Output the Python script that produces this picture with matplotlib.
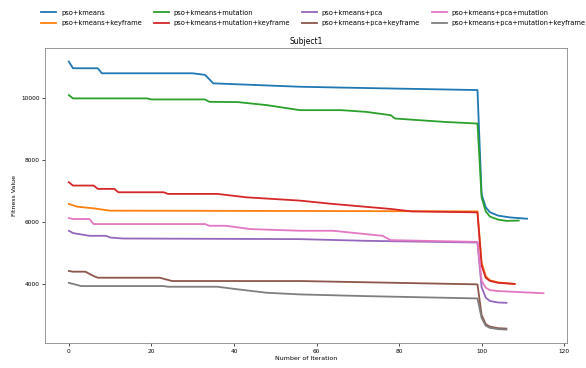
import matplotlib
matplotlib.use('Agg')
import matplotlib.pyplot as plt

# (iteration, fitness) break points
labels = ['pso+kmeans', 'pso+kmeans+keyframe',
          'pso+kmeans+mutation', 'pso+kmeans+mutation+keyframe',
          'pso+kmeans+pca', 'pso+kmeans+pca+keyframe',
          'pso+kmeans+pca+mutation', 'pso+kmeans+pca+mutation+keyframe']

kmeans_x = [0, 1, 7, 8, 30, 33, 35, 56, 66, 99, 100, 101, 102, 104, 107, 111]
kmeans_y = [11190, 10975, 10975, 10812, 10812, 10760, 10487, 10377, 10350, 10270,
            6900, 6480, 6320, 6210, 6150, 6110]

kmeans_kf_x = [0, 2, 6, 10, 56, 99, 100, 101, 102, 104, 108]
kmeans_kf_y = [6587, 6500, 6445, 6370, 6360, 6347, 4700, 4250, 4120, 4050, 4000]

mut_x = [0, 1, 19, 20, 33, 34, 41, 48, 56, 66, 72, 78, 79, 91, 99,
         100, 101, 102, 104, 106, 109]
mut_y = [10107, 10000, 10000, 9967, 9967, 9890, 9880, 9782, 9620, 9620, 9565, 9457,
         9350, 9240, 9187, 6800, 6350, 6180, 6080, 6040, 6050]

mut_kf_x = [0, 1, 6, 7, 11, 12, 23, 24, 36, 43, 56, 64, 78, 83, 99,
            100, 101, 102, 104, 108]
mut_kf_y = [7290, 7182, 7182, 7075, 7075, 6965, 6965, 6912, 6912, 6802, 6695, 6587,
            6425, 6347, 6315, 4600, 4200, 4100, 4037, 4000]

pca_x = [0, 1, 5, 9, 10, 13, 56, 72, 99, 100, 101, 102, 104, 106]
pca_y = [5720, 5645, 5557, 5557, 5502, 5470, 5450, 5395, 5340,
         3900, 3560, 3450, 3400, 3390]

pca_kf_x = [0, 1, 4, 6, 7, 22, 25, 56, 99, 100, 101, 102, 104, 106]
pca_kf_y = [4420, 4397, 4397, 4257, 4202, 4202, 4095, 4095, 3987,
            3000, 2700, 2620, 2570, 2557]

pca_mut_x = [0, 1, 5, 6, 33, 34, 38, 44, 56, 64, 76, 78, 99,
             100, 101, 102, 104, 115]
pca_mut_y = [6130, 6100, 6100, 5937, 5937, 5882, 5882, 5775, 5720, 5720, 5557, 5417,
             5360, 4100, 3880, 3800, 3770, 3700]

pca_mut_kf_x = [0, 3, 23, 24, 36, 41, 48, 56, 72, 99, 100, 101, 102, 104, 106]
pca_mut_kf_y = [4037, 3932, 3932, 3910, 3910, 3825, 3715, 3662, 3607, 3532,
                2900, 2650, 2580, 2540, 2525]

series = [(kmeans_x, kmeans_y), (kmeans_kf_x, kmeans_kf_y),
          (mut_x, mut_y), (mut_kf_x, mut_kf_y),
          (pca_x, pca_y), (pca_kf_x, pca_kf_y),
          (pca_mut_x, pca_mut_y), (pca_mut_kf_x, pca_mut_kf_y)]


def main():
    fig = plt.figure(figsize=(5.86, 3.68), dpi=100)
    ax = fig.add_axes([0.077, 0.068, 0.891, 0.801])

    for i, ((x, y), lab) in enumerate(zip(series, labels)):
        ax.plot(x, y, color='C%d' % i, lw=1.3, label=lab)

    ax.set_yticks([4000, 6000, 8000, 10000])
    ax.set_xticks([0, 20, 40, 60, 80, 100, 120])
    ax.tick_params(labelsize=4.2, length=2, width=0.5, pad=2)
    for s in ax.spines.values():
        s.set_linewidth(0.6)
        s.set_color('#888888')
    ax.set_title('Subject1', fontsize=5.5, pad=3)
    ax.set_xlabel('Number of Iteration', fontsize=4.5, labelpad=2)
    ax.set_ylabel('Fitness Value', fontsize=4.5, labelpad=3)

    handles, labs = ax.get_legend_handles_labels()
    fig.legend(handles, labs, loc='upper center', bbox_to_anchor=(0.535, 0.99),
               ncol=4, fontsize=4.8, frameon=False, handlelength=2.2,
               handletextpad=0.75, columnspacing=1.8, labelspacing=0.65)

    fig.savefig('out.png', dpi=100)


if __name__ == '__main__':
    main()
